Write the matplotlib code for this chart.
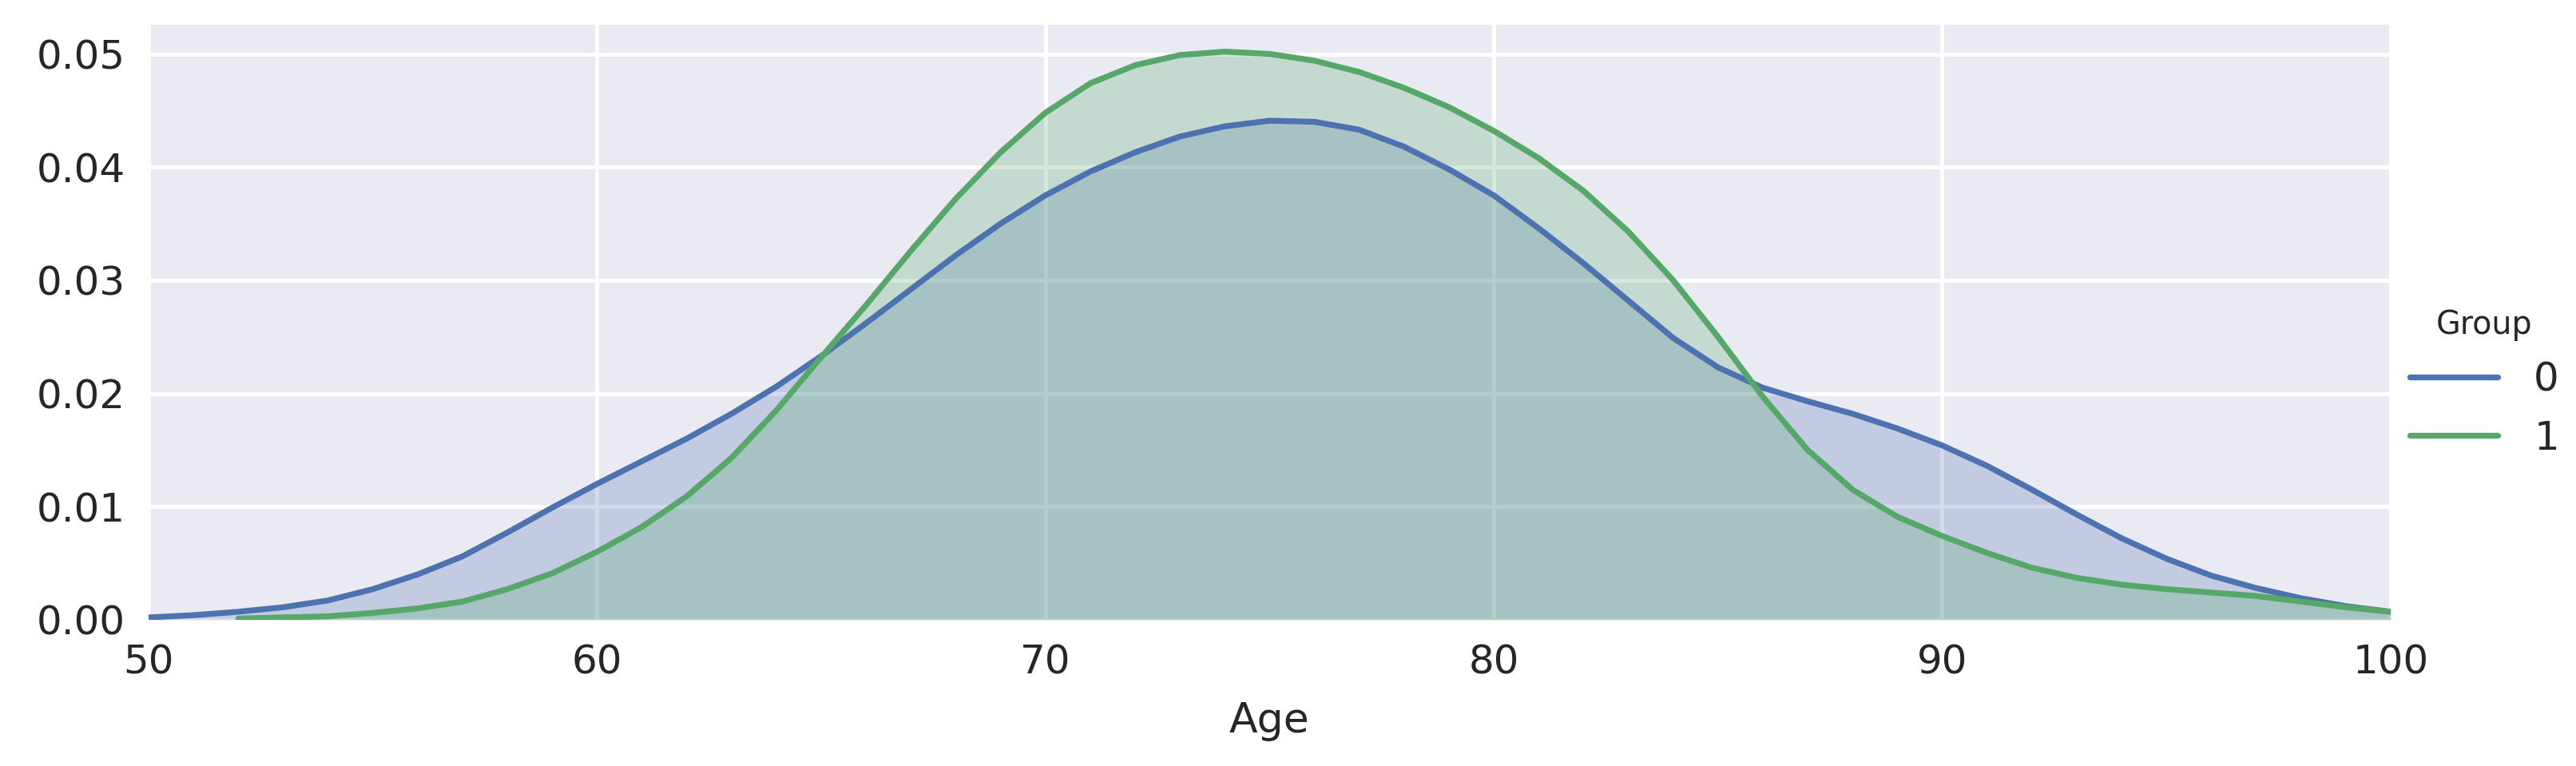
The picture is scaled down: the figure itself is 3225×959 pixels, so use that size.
import numpy as np
import matplotlib
matplotlib.use("Agg")
import matplotlib.pyplot as plt
import seaborn as sns

# density values, group 0 (blue) and group 1 (green)
age0 = np.arange(50, 101)
dens0 = [0.0002, 0.0004, 0.0007, 0.0011, 0.0017, 0.0027, 0.0040, 0.0056, 0.0077, 0.0099,
         0.0120, 0.0140, 0.0160, 0.0182, 0.0206, 0.0233, 0.0262, 0.0292, 0.0322, 0.0350,
         0.0375, 0.0396, 0.0413, 0.0427, 0.0436, 0.0441, 0.0440, 0.0433, 0.0418, 0.0398,
         0.0375, 0.0346, 0.0315, 0.0282, 0.0249, 0.0223, 0.0205, 0.0193, 0.0182, 0.0169,
         0.0154, 0.0136, 0.0115, 0.0093, 0.0072, 0.0054, 0.0039, 0.0028, 0.0019, 0.0012,
         0.0007]

age1 = np.arange(52, 101)
dens1 = [0.0001, 0.0002, 0.0003, 0.0006, 0.0010, 0.0016, 0.0027, 0.0041,
         0.0060, 0.0082, 0.0109, 0.0143, 0.0185, 0.0232, 0.0278, 0.0326, 0.0372, 0.0413,
         0.0448, 0.0474, 0.0490, 0.0499, 0.0502, 0.0500, 0.0494, 0.0484, 0.0470, 0.0453,
         0.0432, 0.0408, 0.0379, 0.0343, 0.0300, 0.0250, 0.0197, 0.0150, 0.0115, 0.0091,
         0.0074, 0.0059, 0.0046, 0.0037, 0.0031, 0.0027, 0.0024, 0.0021, 0.0016, 0.0011,
         0.0007]

groups = ["0", "1"]
xticks = [50, 60, 70, 80, 90, 100]
yticks = [0.00, 0.01, 0.02, 0.03, 0.04, 0.05]

sns.set_style("darkgrid")
plt.rcParams['font.family'] = ['DejaVu Sans']

colors = ["#4C72B0", "#55A868"]

fig = plt.figure(figsize=(10.75, 3.1967), dpi=300)
ax = fig.add_axes([0.0577, 0.191, 0.8703, 0.777])

for x, y, c, g in [(age0, dens0, colors[0], groups[0]), (age1, dens1, colors[1], groups[1])]:
    ax.fill_between(x, y, 0, color=c, alpha=0.25, lw=0)
    ax.plot(x, y, color=c, lw=1.75, label=g)

ax.set_xlim(50, 100)
ax.set_ylim(0, 0.0526)
ax.set_xticks(xticks)
ax.set_yticks(yticks)
ax.set_yticklabels(["%.2f" % v for v in yticks])
ax.tick_params(labelsize=12, colors=".15", length=0, pad=7)
ax.grid(color="white", lw=1.2)
ax.set_xlabel("Age", fontsize=12.5, color=".15", labelpad=6)
for s in ax.spines.values():
    s.set_visible(False)

leg = fig.legend(title="Group", loc="center left", bbox_to_anchor=(0.9216, 0.5),
                 frameon=False, fontsize=12, title_fontsize=9.5,
                 handlelength=2.2, handletextpad=0.9, labelspacing=0.5)
for t in leg.get_texts():
    t.set_color(".15")
leg.get_title().set_color(".15")

fig.savefig("out.png", dpi=300)
